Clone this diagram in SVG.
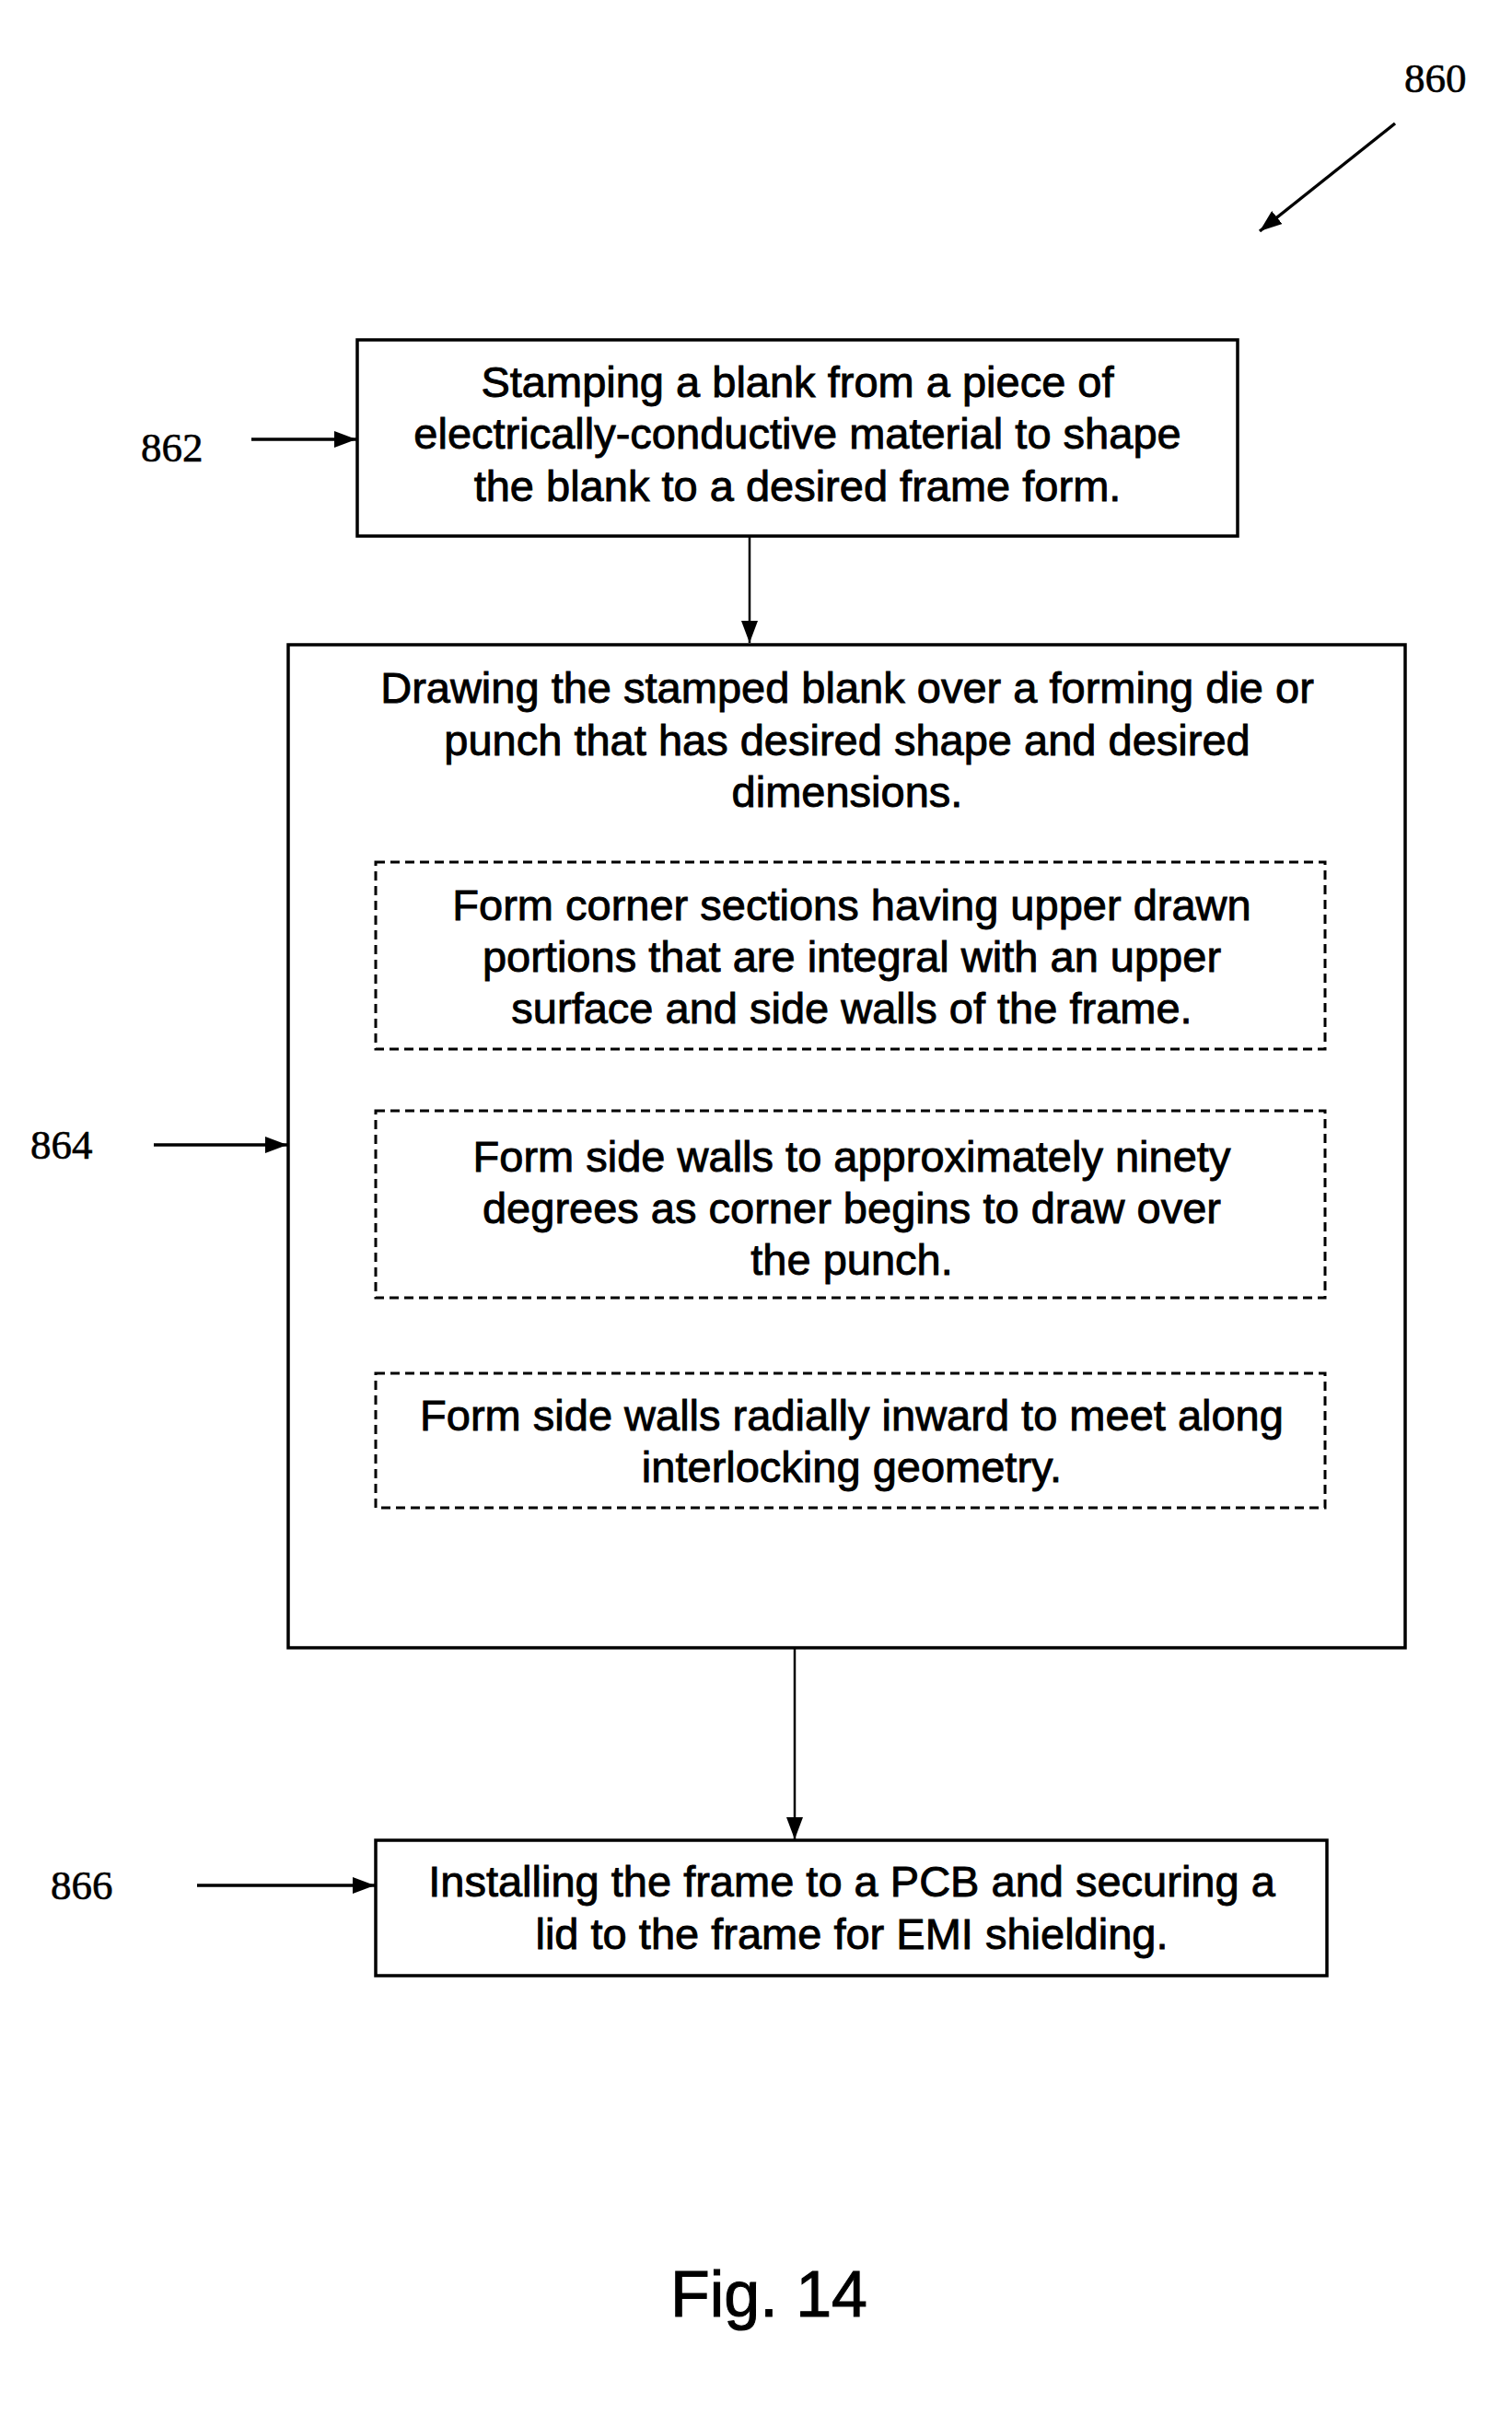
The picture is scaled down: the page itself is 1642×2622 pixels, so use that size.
<svg xmlns="http://www.w3.org/2000/svg" width="1642" height="2622" viewBox="0 0 1642 2622">
<style>
.box{fill:none;stroke:#000;stroke-width:3.5}
.dash{fill:none;stroke:#000;stroke-width:3;stroke-dasharray:10 6}
.t{font-family:"Liberation Sans",Arial,sans-serif;font-size:47px;fill:#000;stroke:#000;stroke-width:0.9;text-anchor:middle}
.n{font-family:"Liberation Serif","Times New Roman",serif;font-size:45px;fill:#000;stroke:#000;stroke-width:0.6}
.fig{font-family:"Liberation Sans",Arial,sans-serif;font-size:70px;fill:#000;stroke:#000;stroke-width:1;text-anchor:middle}
.c{stroke:#000;stroke-width:2.5;fill:none}
.r{stroke:#000;stroke-width:3.5;fill:none}
</style>
<defs>
<marker id="ah" markerWidth="24" markerHeight="18" refX="24" refY="9" orient="auto" markerUnits="userSpaceOnUse">
<path d="M0,0 L24,9 L0,18 Z" fill="#000"/>
</marker>
</defs>
<rect width="1642" height="2622" fill="#fff"/>

<g id="connectors">
<line class="r" x1="1515" y1="134" x2="1368" y2="251" marker-end="url(#ah)"/>
<line class="r" x1="273" y1="477" x2="387" y2="477" marker-end="url(#ah)"/>
<line class="r" x1="167" y1="1243" x2="312" y2="1243" marker-end="url(#ah)"/>
<line class="r" x1="214" y1="2047" x2="407" y2="2047" marker-end="url(#ah)"/>
<line class="c" x1="814" y1="582" x2="814" y2="698" marker-end="url(#ah)"/>
<line class="c" x1="863" y1="1789" x2="863" y2="1997" marker-end="url(#ah)"/>
</g>

<g id="label-860"><text class="n" x="1525" y="100">860</text></g>
<g id="label-862"><text class="n" x="153" y="501">862</text></g>
<g id="label-864"><text class="n" x="33" y="1258">864</text></g>
<g id="label-866"><text class="n" x="55" y="2062">866</text></g>

<g id="node-862">
<rect class="box" x="388" y="369" width="956" height="213"/>
<text class="t" x="866" y="431">Stamping a blank from a piece of</text>
<text class="t" x="866" y="487">electrically-conductive material to shape</text>
<text class="t" x="866" y="544">the blank to a desired frame form.</text>
</g>

<g id="node-864">
<rect class="box" x="313" y="700" width="1213" height="1089"/>
<text class="t" x="920" y="763">Drawing the stamped blank over a forming die or</text>
<text class="t" x="920" y="820">punch that has desired shape and desired</text>
<text class="t" x="920" y="876">dimensions.</text>
</g>

<g id="node-864a">
<rect class="dash" x="408" y="936" width="1031" height="203"/>
<text class="t" x="925" y="999">Form corner sections having upper drawn</text>
<text class="t" x="925" y="1055">portions that are integral with an upper</text>
<text class="t" x="925" y="1111">surface and side walls of the frame.</text>
</g>

<g id="node-864b">
<rect class="dash" x="408" y="1206" width="1031" height="203"/>
<text class="t" x="925" y="1272">Form side walls to approximately ninety</text>
<text class="t" x="925" y="1328">degrees as corner begins to draw over</text>
<text class="t" x="925" y="1384">the punch.</text>
</g>

<g id="node-864c">
<rect class="dash" x="408" y="1491" width="1031" height="146"/>
<text class="t" x="925" y="1553">Form side walls radially inward to meet along</text>
<text class="t" x="925" y="1609">interlocking geometry.</text>
</g>

<g id="node-866">
<rect class="box" x="408" y="1998" width="1033" height="147"/>
<text class="t" x="925" y="2059">Installing the frame to a PCB and securing a</text>
<text class="t" x="925" y="2116">lid to the frame for EMI shielding.</text>
</g>

<g id="caption"><text class="fig" x="835" y="2515">Fig. 14</text></g>
</svg>
